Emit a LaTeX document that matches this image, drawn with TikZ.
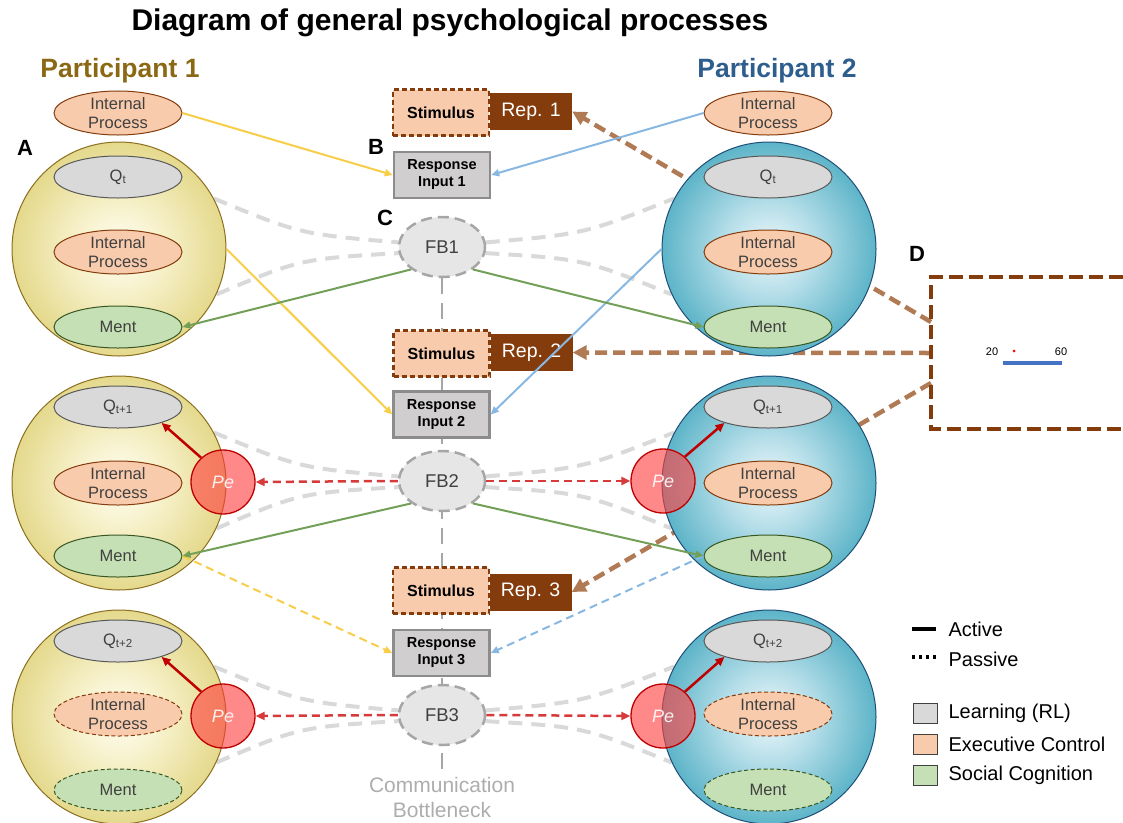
\documentclass[tikz,border=0pt]{standalone}
\usepackage{fontspec}
\setmainfont{Liberation Sans}
\usetikzlibrary{arrows.meta,shapes.geometric}
\definecolor{ycen}{HTML}{FFFEF3}
\definecolor{ymid}{HTML}{F6F0C8}
\definecolor{yedge}{HTML}{E4D98C}
\definecolor{ybord}{HTML}{8B6F1E}
\definecolor{bcen}{HTML}{EEF8FB}
\definecolor{bmid}{HTML}{B3DDE8}
\definecolor{bedge}{HTML}{5DB4C8}
\definecolor{bbord}{HTML}{1F4E79}
\definecolor{qfill}{HTML}{D9D9D9}
\definecolor{qbord}{HTML}{595959}
\definecolor{peach}{HTML}{F8CBAD}
\definecolor{pbord}{HTML}{843C0C}
\definecolor{gfill}{HTML}{C5E0B4}
\definecolor{gbord}{HTML}{385723}
\definecolor{brownd}{HTML}{843C0C}
\definecolor{brownl}{HTML}{B07A55}
\definecolor{respg}{HTML}{D0CECE}
\definecolor{respb}{HTML}{8C8C8C}
\definecolor{fbfill}{HTML}{E6E6E6}
\definecolor{fbbord}{HTML}{A6A6A6}
\definecolor{txtg}{HTML}{404040}
\definecolor{ycol}{HTML}{F8CD47}
\definecolor{bcol}{HTML}{88B8E2}
\definecolor{gcol}{HTML}{72A058}
\definecolor{rcol}{HTML}{D63A3A}
\definecolor{rdark}{HTML}{C00000}
\definecolor{cbtext}{HTML}{ADADAD}
\definecolor{pone}{HTML}{8B6914}
\definecolor{ptwo}{HTML}{2E5E8E}
\definecolor{pefill}{HTML}{FF4040}
\definecolor{gcurvec}{HTML}{D9D9D9}
\definecolor{dblue}{HTML}{4472C4}
\pgfdeclareradialshading{yball}{\pgfpoint{0bp}{0bp}}{color(0bp)=(ycen); color(11bp)=(ymid); color(25bp)=(yedge); color(50bp)=(yedge)}
\pgfdeclareradialshading{bball}{\pgfpoint{0bp}{0bp}}{color(0bp)=(bcen); color(11bp)=(bmid); color(25bp)=(bedge); color(50bp)=(bedge)}
\pgfdeclarelayer{bg}
\pgfsetlayers{bg,main}
\begin{document}
\begin{tikzpicture}[x=1pt,y=-1pt,
  sphY/.style={circle,minimum size=214pt,inner sep=0pt,draw=ybord,line width=1pt,shade,shading=yball},
  sphB/.style={circle,minimum size=214pt,inner sep=0pt,draw=bbord,line width=1pt,shade,shading=bball},
  ellbase/.style={ellipse,minimum width=128pt,minimum height=42pt,inner sep=0pt,line width=1pt,text=txtg,align=center,font=\fontsize{16.5}{19}\selectfont},
  qell/.style={ellbase,fill=qfill,draw=qbord},
  ipell/.style={ellbase,fill=peach,draw=pbord},
  mell/.style={ellbase,fill=gfill,draw=gbord},
  passive/.style={dash pattern=on 4pt off 2.5pt},
  pec/.style={circle,minimum size=64pt,inner sep=0pt,fill=pefill,fill opacity=0.62,draw=rdark,line width=1.3pt,text=white,text opacity=0.9,font=\itshape\fontsize{18}{20}\selectfont},
  stimbox/.style={rectangle,minimum width=96pt,minimum height=46pt,inner sep=0pt,fill=peach,draw=brownd,dash pattern=on 5pt off 3pt,line width=2.2pt,font=\bfseries\fontsize{16}{18}\selectfont},
  repbox/.style={rectangle,minimum width=82pt,minimum height=37pt,inner sep=0pt,fill=brownd,text=white,font=\fontsize{19.5}{21}\selectfont},
  respbox/.style={rectangle,minimum width=96pt,minimum height=46pt,inner sep=0pt,fill=respg,draw=respb,line width=2.5pt,align=center,font=\bfseries\fontsize{14.5}{17}\selectfont},
  fbnode/.style={ellipse,minimum width=86pt,minimum height=60pt,inner sep=0pt,fill=fbfill,draw=fbbord,line width=2.5pt,dash pattern=on 11pt off 6pt,text=txtg,font=\fontsize{18.5}{20}\selectfont},
  letter/.style={font=\bfseries\fontsize{22}{24}\selectfont},
  arrY/.style={draw=ycol,line width=2pt,-{Triangle[length=8pt,width=7pt]}},
  arrB/.style={draw=bcol,line width=2pt,-{Triangle[length=8pt,width=7pt]}},
  arrG/.style={draw=gcol,line width=2pt,-{Triangle[length=8pt,width=7pt]}},
  arrR/.style={draw=rcol,line width=2.5pt,dash pattern=on 8pt off 5pt,-{Triangle[length=9pt,width=8pt]}},
  arrRd/.style={draw=rdark,line width=2.5pt,-{Triangle[length=9pt,width=8pt]}},
  arrBr/.style={draw=brownl,line width=4.5pt,dash pattern=on 12pt off 6pt,-{Triangle[length=14pt,width=14pt]}},
  dsh/.style={dash pattern=on 8pt off 5pt},
  gcurve/.style={draw=gcurvec,line width=4pt,dash pattern=on 14pt off 9pt},
  vline/.style={draw=fbbord,line width=2.5pt,dash pattern=on 16pt off 9pt},
  legtext/.style={anchor=west,font=\fontsize{20}{22}\selectfont}
]
\useasboundingbox (0,0) rectangle (1123,822);

% titles
\node[font=\bfseries\fontsize{30}{34}\selectfont] (title) at (450,23) {Diagram of general psychological processes};
\node[font=\bfseries\fontsize{26.5}{28}\selectfont,text=pone] (p1) at (120,71) {Participant 1};
\node[font=\bfseries\fontsize{26.5}{28}\selectfont,text=ptwo] (p2) at (777,71) {Participant 2};

% letters
\node[letter] (lA) at (25,148) {A};
\node[letter] (lB) at (376,147) {B};
\node[letter] (lC) at (385,218) {C};
\node[letter] (lD) at (917,254) {D};

% top internal processes
\node[ipell] (IPL0) at (118,113) {Internal\\Process};
\node[ipell] (IPR0) at (768,113) {Internal\\Process};

% spheres, left
\node[sphY] (SL1) at (119,249) {};
\node[sphY] (SL2) at (119,483) {};
\node[sphY] (SL3) at (119,717) {};
% spheres, right
\node[sphB] (SR1) at (769,249) {};
\node[sphB] (SR2) at (769,483) {};
\node[sphB] (SR3) at (769,717) {};

% inner ellipses left
\node[qell] (QL1) at (118,177) {Q\textsubscript{t}};
\node[ipell] (IPL1) at (118,252) {Internal\\Process};
\node[mell] (ML1) at (118,327) {Ment};
\node[qell] (QL2) at (118,407) {Q\textsubscript{t+1}};
\node[ipell] (IPL2) at (118,483) {Internal\\Process};
\node[mell] (ML2) at (118,556) {Ment};
\node[qell] (QL3) at (118,641) {Q\textsubscript{t+2}};
\node[ipell,passive] (IPL3) at (118,714) {Internal\\Process};
\node[mell,passive] (ML3) at (118,790) {Ment};
% inner ellipses right
\node[qell] (QR1) at (768,177) {Q\textsubscript{t}};
\node[ipell] (IPR1) at (768,252) {Internal\\Process};
\node[mell] (MR1) at (768,327) {Ment};
\node[qell] (QR2) at (768,407) {Q\textsubscript{t+1}};
\node[ipell] (IPR2) at (768,483) {Internal\\Process};
\node[mell] (MR2) at (768,556) {Ment};
\node[qell] (QR3) at (768,641) {Q\textsubscript{t+2}};
\node[ipell,passive] (IPR3) at (768,714) {Internal\\Process};
\node[mell,passive] (MR3) at (768,790) {Ment};

% Pe circles
\node[pec] (PeL2) at (223,482) {Pe};
\node[pec] (PeL3) at (223,716) {Pe};
\node[pec] (PeR2) at (663,481) {Pe};
\node[pec] (PeR3) at (663,716) {Pe};

% central column
\node[stimbox] (St1) at (441,112.5) {Stimulus};
\node[repbox] (Rep1) at (531,111.5) {Rep. 1};
\node[respbox] (Resp1) at (442,175) {Response\\Input 1};
\node[fbnode] (FB1) at (442,247) {FB1};

\node[stimbox] (St2) at (441.5,353.5) {Stimulus};
\node[repbox] (Rep2) at (531.5,352.5) {Rep. 2};
\node[respbox] (Resp2) at (441.5,414.5) {Response\\Input 2};
\node[fbnode] (FB2) at (442,481) {FB2};

\node[stimbox] (St3) at (441,590.5) {Stimulus};
\node[repbox] (Rep3) at (530.5,592) {Rep. 3};
\node[respbox] (Resp3) at (441.5,653) {Response\\Input 3};
\node[fbnode] (FB3) at (442,715) {FB3};

\node[text=cbtext,align=center,font=\fontsize{21}{25}\selectfont] (CB) at (442,797) {Communication\\Bottleneck};

% panel D
\coordinate (D1) at (931,322);
\coordinate (D2) at (931,353);
\coordinate (D3) at (931,383);
\draw[draw=brownd,line width=4pt,dash pattern=on 14pt off 6pt] (1123,277) -- (931,277) -- (931,429) -- (1123,429);
\node[font=\fontsize{11}{13}\selectfont] (n20) at (992,352) {20};
\node[font=\fontsize{11}{13}\selectfont] (n60) at (1061,352) {60};
\node[circle,fill=red,inner sep=0pt,minimum size=3pt] (dot) at (1014,351) {};
\draw[draw=dblue,line width=3.5pt] (1003,363) -- (1062,363);

% legend
\draw[line width=3.5pt] (912,629) -- (936,629);
\draw[line width=3.5pt,dash pattern=on 3pt off 4pt] (912,657) -- (936,657);
\node[legtext] (lgA) at (945,629) {Active};
\node[legtext] (lgP) at (945,659) {Passive};
\draw[fill=qfill,draw=txtg,line width=1pt] (913,703) rectangle (937,723);
\draw[fill=peach,draw=txtg,line width=1pt] (913,734) rectangle (937,754);
\draw[fill=gfill,draw=txtg,line width=1pt] (913,765) rectangle (937,785);
\node[legtext] (lgL) at (945,713) {Learning (RL)};
\node[legtext] (lgE) at (945,744) {Executive Control};
\node[legtext] (lgS) at (945,775) {Social Cognition};

% background connectors
\begin{pgfonlayer}{bg}
\draw[vline] (FB1.south) -- (CB.north);
% gray cones
\draw[gcurve] (SL1.28) .. controls (300,234) .. (FB1.174);
\draw[gcurve] (SL1.-25) .. controls (300,259) .. (FB1.188);
\draw[gcurve] (FB1.6) .. controls (584,234) .. (SR1.152);
\draw[gcurve] (FB1.-8) .. controls (584,259) .. (SR1.-155);
\draw[gcurve] (SL2.28) .. controls (300,468) .. (FB2.174);
\draw[gcurve] (SL2.-25) .. controls (300,493) .. (FB2.188);
\draw[gcurve] (FB2.6) .. controls (584,468) .. (SR2.152);
\draw[gcurve] (FB2.-8) .. controls (584,493) .. (SR2.-155);
\draw[gcurve] (SL3.28) .. controls (300,702) .. (FB3.174);
\draw[gcurve] (SL3.-25) .. controls (300,727) .. (FB3.188);
\draw[gcurve] (FB3.6) .. controls (584,702) .. (SR3.152);
\draw[gcurve] (FB3.-8) .. controls (584,727) .. (SR3.-155);
% brown
\draw[arrBr] (D1) -- (Rep1.east);
\draw[arrBr] (D2) -- (Rep2.east);
\draw[arrBr] (D3) -- (Rep3.east);
\end{pgfonlayer}

% yellow
\draw[arrY] (IPL0.east) -- (Resp1.west);
\draw[arrY] (SL1.east) -- (Resp2.west);
\draw[arrY,dsh] (ML2.east) -- (Resp3.west);
% blue
\draw[arrB] (IPR0.west) -- (Resp1.east);
\draw[arrB] (SR1.west) -- (Resp2.east);
\draw[arrB,dsh] (MR2.west) -- (Resp3.east);
% green
\draw[arrG] (FB1.-144) -- (ML1.east);
\draw[arrG] (FB1.-36) -- (MR1.west);
\draw[arrG] (FB2.-144) -- (ML2.east);
\draw[arrG] (FB2.-36) -- (MR2.west);
% red dashed
\draw[arrR] (FB2.west) -- (PeL2.east);
\draw[arrR] (FB2.east) -- (PeR2.west);
\draw[arrR] (FB3.west) -- (PeL3.east);
\draw[arrR] (FB3.east) -- (PeR3.west);
% Pe to Q
\draw[arrRd] (PeL2.132) -- (QL2.-20);
\draw[arrRd] (PeR2.48) -- (QR2.-160);
\draw[arrRd] (PeL3.132) -- (QL3.-20);
\draw[arrRd] (PeR3.48) -- (QR3.-160);
\end{tikzpicture}
\end{document}
